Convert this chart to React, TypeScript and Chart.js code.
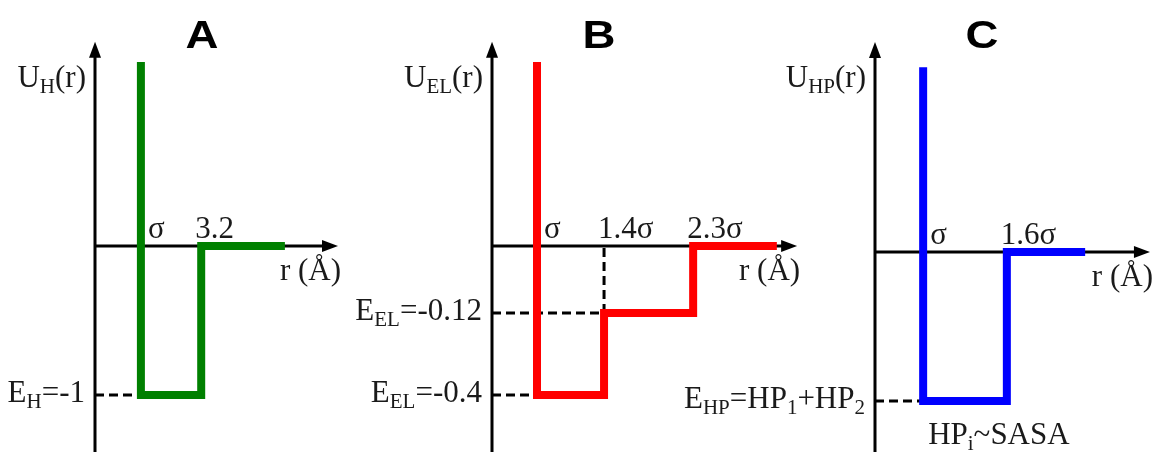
import React, { useEffect, useRef } from "react";
import { Chart, registerables } from "chart.js";

Chart.register(...registerables);

// ---- schematic data (x in reduced distance units, y in reduced energy units) ----
const titles = ["A", "B", "C"];
const yTitles = ["U_{H}(r)", "U_{EL}(r)", "U_{HP}(r)"];
const colors = ["#008000", "#ff0000", "#0000ff"];

// step edges: wall (σ), cut-offs, end of drawn line
const hEdges = [1.02, 2.36, 4.22];
const elEdges = [1.0, 2.49, 4.47, 6.33];
const hpEdges = [1.07, 2.93, 4.67];

// levels: wall top, well level(s), outside level
const hLevels = [1.235, -1, 0];
const elLevels = [1.235, -1, -0.45, 0];
const hpLevels = [1.24, -1, 0];

// labels at edges
const hEdgeLabels = ["σ", "3.2"];
const elEdgeLabels = ["σ", "1.4σ", "2.3σ"];
const hpEdgeLabels = ["σ", "1.6σ"];

// labels for levels (aligned with level arrays)
const hLevelLabels = [null, "E_{H}=-1", null];
const elLevelLabels = [null, "E_{EL}=-0.4", "E_{EL}=-0.12", null];
const hpLevelLabels = [null, "E_{HP}=HP_{1}+HP_{2}", null];

const notes = [null, null, "HP_{i}~SASA"];
const xAxisLabel = "r (Å)";

// axis extents (data units)
const xAxisTips = [5.4, 6.78, 6.11];
const yAxisTips = [1.37, 1.37, 1.41];

// ---- layout ----
const H = 452;
const PX_X = 45;
const PX_Y = 149;
const layouts = [
  { left: 0, width: 345, axisPx: 95, zeroPy: 246 },
  { left: 340, width: 470, axisPx: 152, zeroPy: 246 },
  { left: 675, width: 483, axisPx: 200, zeroPy: 252 },
];

const SERIF = '"Liberation Serif", "Times New Roman", serif';
const MAIN_FONT = `31px ${SERIF}`;
const SUB_FONT = `21px ${SERIF}`;
const TEXT_COLOR = "#1a1a1a";

type Seg = { t: string; sub: boolean };
function parseRich(s: string): Seg[] {
  const out: Seg[] = [];
  const re = /_\{([^}]*)\}/g;
  let last = 0;
  let m: RegExpExecArray | null;
  while ((m = re.exec(s))) {
    if (m.index > last) out.push({ t: s.slice(last, m.index), sub: false });
    out.push({ t: m[1], sub: true });
    last = m.index + m[0].length;
  }
  if (last < s.length) out.push({ t: s.slice(last), sub: false });
  return out;
}

function drawRich(ctx: CanvasRenderingContext2D, s: string, x: number, y: number, align: "left" | "right" | "center") {
  const segs = parseRich(s);
  let w = 0;
  ctx.textAlign = "left";
  ctx.textBaseline = "alphabetic";
  for (const sg of segs) {
    ctx.font = sg.sub ? SUB_FONT : MAIN_FONT;
    w += ctx.measureText(sg.t).width;
  }
  let cx = align === "right" ? x - w : align === "center" ? x - w / 2 : x;
  for (const sg of segs) {
    ctx.font = sg.sub ? SUB_FONT : MAIN_FONT;
    ctx.fillText(sg.t, cx, sg.sub ? y + 6 : y);
    cx += ctx.measureText(sg.t).width;
  }
}

function stepPath(edges: number[], levels: number[]) {
  const pts = [{ x: edges[0], y: levels[0] }];
  for (let i = 0; i < edges.length - 1; i++) {
    pts.push({ x: edges[i], y: levels[i + 1] });
    pts.push({ x: edges[i + 1], y: levels[i + 1] });
  }
  return pts;
}

function guidePaths(edges: number[], levels: number[]) {
  const paths: { x: number; y: number }[][] = [];
  for (let i = 0; i < edges.length - 1; i++) {
    const lv = levels[i + 1];
    if (lv < 0) {
      paths.push([
        { x: 0, y: lv },
        { x: edges[i], y: lv },
      ]);
      if (i >= 1) {
        paths.push([
          { x: edges[i], y: lv },
          { x: edges[i], y: 0 },
        ]);
      }
    }
  }
  return paths;
}

const panels = [
  { edges: hEdges, levels: hLevels, edgeLabels: hEdgeLabels, levelLabels: hLevelLabels },
  { edges: elEdges, levels: elLevels, edgeLabels: elEdgeLabels, levelLabels: elLevelLabels },
  { edges: hpEdges, levels: hpLevels, edgeLabels: hpEdgeLabels, levelLabels: hpLevelLabels },
];

function Panel({ idx }: { idx: number }) {
  const ref = useRef<HTMLCanvasElement>(null);
  useEffect(() => {
    const p = panels[idx];
    const L = layouts[idx];
    const xmin = -L.axisPx / PX_X;
    const xmax = (L.width - L.axisPx) / PX_X;
    const ymax = L.zeroPy / PX_Y;
    const ymin = -(H - L.zeroPy) / PX_Y;

    const schematic = {
      id: "schematic" + idx,
      beforeDatasetsDraw(chart: any) {
        const { ctx, chartArea } = chart;
        const sx = chart.scales.x;
        const sy = chart.scales.y;
        const ax = sx.getPixelForValue(0);
        const zy = sy.getPixelForValue(0);
        const tipX = sx.getPixelForValue(xAxisTips[idx]);
        const tipY = sy.getPixelForValue(yAxisTips[idx]);
        ctx.save();
        ctx.strokeStyle = "#000";
        ctx.fillStyle = "#000";
        ctx.lineWidth = 3;
        ctx.beginPath();
        ctx.moveTo(ax, chartArea.bottom);
        ctx.lineTo(ax, tipY + 12);
        ctx.moveTo(ax, zy);
        ctx.lineTo(tipX - 12, zy);
        ctx.stroke();
        ctx.beginPath();
        ctx.moveTo(ax, tipY);
        ctx.lineTo(ax - 6, tipY + 16);
        ctx.lineTo(ax + 6, tipY + 16);
        ctx.closePath();
        ctx.fill();
        ctx.beginPath();
        ctx.moveTo(tipX, zy);
        ctx.lineTo(tipX - 16, zy - 6);
        ctx.lineTo(tipX - 16, zy + 6);
        ctx.closePath();
        ctx.fill();
        ctx.restore();
      },
      afterDatasetsDraw(chart: any) {
        const { ctx } = chart;
        const sx = chart.scales.x;
        const sy = chart.scales.y;
        const ax = sx.getPixelForValue(0);
        const zy = sy.getPixelForValue(0);
        const tipX = sx.getPixelForValue(xAxisTips[idx]);
        ctx.save();
        ctx.fillStyle = TEXT_COLOR;
        // panel title
        ctx.save();
        ctx.font = `bold 38px "Liberation Sans", Arial, sans-serif`;
        ctx.textAlign = "center";
        ctx.textBaseline = "alphabetic";
        ctx.translate(ax + 107, 48);
        ctx.scale(1.2, 1);
        ctx.fillStyle = "#000";
        ctx.fillText(titles[idx], 0, 0);
        ctx.restore();
        // y-axis title
        drawRich(ctx, yTitles[idx], ax - 9, 87, "right");
        // x-axis title
        drawRich(ctx, xAxisLabel, tipX + 3, zy + 34, "right");
        // edge labels
        p.edgeLabels.forEach((lab, i) => {
          const px = sx.getPixelForValue(p.edges[i]);
          drawRich(ctx, lab, i === 0 ? px + 7 : px - 6, zy - 8, "left");
        });
        // level labels
        p.levelLabels.forEach((lab, i) => {
          if (!lab) return;
          const py = sy.getPixelForValue(p.levels[i]);
          drawRich(ctx, lab, ax - 10, py + 7, "right");
        });
        const note = notes[idx];
        if (note) {
          const px = sx.getPixelForValue(p.edges[0]);
          const py = sy.getPixelForValue(p.levels[1]);
          drawRich(ctx, note, px + 5, py + 43, "left");
        }
        ctx.restore();
      },
    };

    const datasets: any[] = [
      {
        data: stepPath(p.edges, p.levels),
        borderColor: colors[idx],
        borderWidth: 8,
        borderJoinStyle: "miter",
        borderCapStyle: "butt",
        fill: false,
        pointRadius: 0,
        tension: 0,
        order: 0,
      },
      ...guidePaths(p.edges, p.levels).map((g) => ({
        data: g,
        borderColor: "#000",
        borderWidth: 3,
        borderDash: [9, 5],
        fill: false,
        pointRadius: 0,
        tension: 0,
        order: 1,
      })),
    ];

    const chart = new Chart(ref.current!, {
      type: "line",
      data: { datasets },
      options: {
        animation: false,
        responsive: false,
        devicePixelRatio: 1,
        events: [],
        layout: { padding: 0 },
        plugins: { legend: { display: false }, tooltip: { enabled: false }, title: { display: false } },
        scales: {
          x: { type: "linear", display: false, min: xmin, max: xmax },
          y: { type: "linear", display: false, min: ymin, max: ymax },
        },
      },
      plugins: [schematic],
    } as any);
    return () => chart.destroy();
  }, [idx]);
  const L = layouts[idx];
  return (
    <canvas
      ref={ref}
      width={L.width}
      height={H}
      style={{ position: "absolute", left: L.left, top: 0, width: L.width, height: H, display: "block" }}
    />
  );
}

export default function App() {
  return (
    <div style={{ position: "fixed", left: 0, top: 0, width: 1158, height: H, background: "#fff", overflow: "hidden" }}>
      {[0, 1, 2].map((i) => (
        <Panel key={i} idx={i} />
      ))}
    </div>
  );
}
